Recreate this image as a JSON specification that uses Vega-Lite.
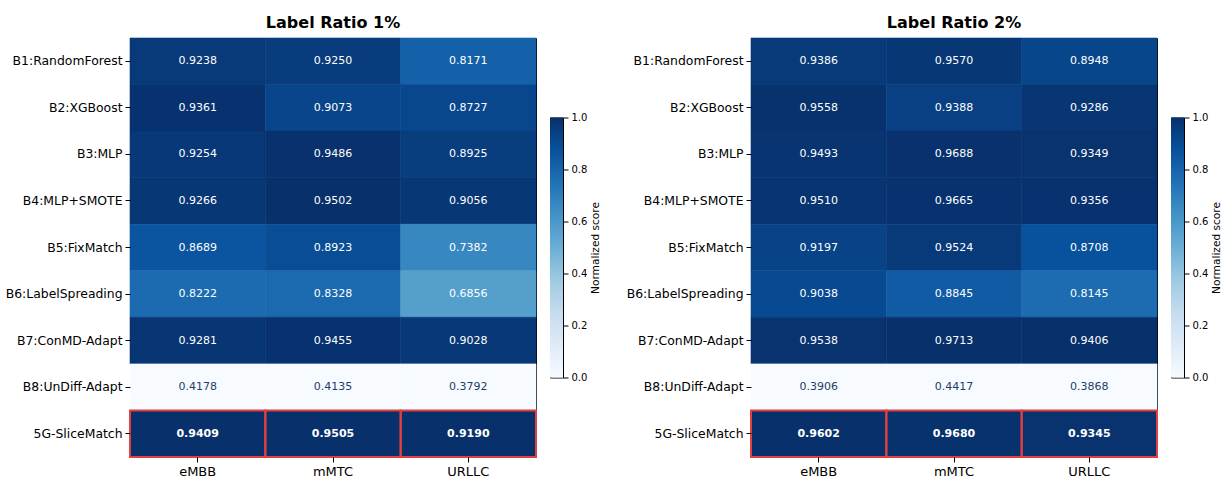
{
  "$schema": "https://vega.github.io/schema/vega-lite/v6.json",
  "padding": {"left": 4, "top": 14, "right": 0, "bottom": 0},
  "background": "white",
  "config": {
    "font": "DejaVu Sans",
    "view": {"stroke": "#000000", "strokeWidth": 1},
    "axis": {"labelColor": "#000000", "tickColor": "#000000", "domain": false, "grid": false, "labelFont": "DejaVu Sans", "titleFont": "DejaVu Sans", "titleColor": "#000000", "titleFontWeight": "normal", "tickSize": 5, "labelPadding": 3},
    "title": {"font": "DejaVu Sans", "fontSize": 16, "fontWeight": "bold", "color": "#000000", "offset": 7, "anchor": "middle"}
  },
  "datasets": {
    "r1": [
      {"model": "B1:RandomForest", "slice": "eMBB", "value": 0.9238, "norm": 0.967},
      {"model": "B1:RandomForest", "slice": "mMTC", "value": 0.9250, "norm": 0.953},
      {"model": "B1:RandomForest", "slice": "URLLC", "value": 0.8171, "norm": 0.811},
      {"model": "B2:XGBoost", "slice": "eMBB", "value": 0.9361, "norm": 0.991},
      {"model": "B2:XGBoost", "slice": "mMTC", "value": 0.9073, "norm": 0.920},
      {"model": "B2:XGBoost", "slice": "URLLC", "value": 0.8727, "norm": 0.914},
      {"model": "B3:MLP", "slice": "eMBB", "value": 0.9254, "norm": 0.970},
      {"model": "B3:MLP", "slice": "mMTC", "value": 0.9486, "norm": 0.996},
      {"model": "B3:MLP", "slice": "URLLC", "value": 0.8925, "norm": 0.951},
      {"model": "B4:MLP+SMOTE", "slice": "eMBB", "value": 0.9266, "norm": 0.973},
      {"model": "B4:MLP+SMOTE", "slice": "mMTC", "value": 0.9502, "norm": 0.999},
      {"model": "B4:MLP+SMOTE", "slice": "URLLC", "value": 0.9056, "norm": 0.975},
      {"model": "B5:FixMatch", "slice": "eMBB", "value": 0.8689, "norm": 0.862},
      {"model": "B5:FixMatch", "slice": "mMTC", "value": 0.8923, "norm": 0.892},
      {"model": "B5:FixMatch", "slice": "URLLC", "value": 0.7382, "norm": 0.665},
      {"model": "B6:LabelSpreading", "slice": "eMBB", "value": 0.8222, "norm": 0.773},
      {"model": "B6:LabelSpreading", "slice": "mMTC", "value": 0.8328, "norm": 0.781},
      {"model": "B6:LabelSpreading", "slice": "URLLC", "value": 0.6856, "norm": 0.568},
      {"model": "B7:ConMD-Adapt", "slice": "eMBB", "value": 0.9281, "norm": 0.976},
      {"model": "B7:ConMD-Adapt", "slice": "mMTC", "value": 0.9455, "norm": 0.991},
      {"model": "B7:ConMD-Adapt", "slice": "URLLC", "value": 0.9028, "norm": 0.970},
      {"model": "B8:UnDiff-Adapt", "slice": "eMBB", "value": 0.4178, "norm": 0.0},
      {"model": "B8:UnDiff-Adapt", "slice": "mMTC", "value": 0.4135, "norm": 0.0},
      {"model": "B8:UnDiff-Adapt", "slice": "URLLC", "value": 0.3792, "norm": 0.0},
      {"model": "5G-SliceMatch", "slice": "eMBB", "value": 0.9409, "norm": 1.0},
      {"model": "5G-SliceMatch", "slice": "mMTC", "value": 0.9505, "norm": 1.0},
      {"model": "5G-SliceMatch", "slice": "URLLC", "value": 0.9190, "norm": 1.0}
    ],
    "r2": [
      {"model": "B1:RandomForest", "slice": "eMBB", "value": 0.9386, "norm": 0.962},
      {"model": "B1:RandomForest", "slice": "mMTC", "value": 0.9570, "norm": 0.973},
      {"model": "B1:RandomForest", "slice": "URLLC", "value": 0.8948, "norm": 0.917},
      {"model": "B2:XGBoost", "slice": "eMBB", "value": 0.9558, "norm": 0.992},
      {"model": "B2:XGBoost", "slice": "mMTC", "value": 0.9388, "norm": 0.939},
      {"model": "B2:XGBoost", "slice": "URLLC", "value": 0.9286, "norm": 0.978},
      {"model": "B3:MLP", "slice": "eMBB", "value": 0.9493, "norm": 0.981},
      {"model": "B3:MLP", "slice": "mMTC", "value": 0.9688, "norm": 0.995},
      {"model": "B3:MLP", "slice": "URLLC", "value": 0.9349, "norm": 0.990},
      {"model": "B4:MLP+SMOTE", "slice": "eMBB", "value": 0.9510, "norm": 0.984},
      {"model": "B4:MLP+SMOTE", "slice": "mMTC", "value": 0.9665, "norm": 0.991},
      {"model": "B4:MLP+SMOTE", "slice": "URLLC", "value": 0.9356, "norm": 0.991},
      {"model": "B5:FixMatch", "slice": "eMBB", "value": 0.9197, "norm": 0.929},
      {"model": "B5:FixMatch", "slice": "mMTC", "value": 0.9524, "norm": 0.964},
      {"model": "B5:FixMatch", "slice": "URLLC", "value": 0.8708, "norm": 0.874},
      {"model": "B6:LabelSpreading", "slice": "eMBB", "value": 0.9038, "norm": 0.901},
      {"model": "B6:LabelSpreading", "slice": "mMTC", "value": 0.8845, "norm": 0.836},
      {"model": "B6:LabelSpreading", "slice": "URLLC", "value": 0.8145, "norm": 0.772},
      {"model": "B7:ConMD-Adapt", "slice": "eMBB", "value": 0.9538, "norm": 0.989},
      {"model": "B7:ConMD-Adapt", "slice": "mMTC", "value": 0.9713, "norm": 1.0},
      {"model": "B7:ConMD-Adapt", "slice": "URLLC", "value": 0.9406, "norm": 1.0},
      {"model": "B8:UnDiff-Adapt", "slice": "eMBB", "value": 0.3906, "norm": 0.0},
      {"model": "B8:UnDiff-Adapt", "slice": "mMTC", "value": 0.4417, "norm": 0.0},
      {"model": "B8:UnDiff-Adapt", "slice": "URLLC", "value": 0.3868, "norm": 0.0},
      {"model": "5G-SliceMatch", "slice": "eMBB", "value": 0.9602, "norm": 1.0},
      {"model": "5G-SliceMatch", "slice": "mMTC", "value": 0.9680, "norm": 0.994},
      {"model": "5G-SliceMatch", "slice": "URLLC", "value": 0.9345, "norm": 0.989}
    ],
    "cbar": [{"lo": 0, "hi": 1}]
  },
  "spacing": 22,
  "hconcat": [
    {
      "spacing": 14,
      "center": true,
      "bounds": "flush",
      "hconcat": [
        {
          "width": 406, "height": 419,
          "title": {"text": "Label Ratio 1%"},
          "data": {"name": "r1"},
          "encoding": {
            "x": {"field": "slice", "type": "nominal", "sort": ["eMBB", "mMTC", "URLLC"], "scale": {"paddingInner": 0, "paddingOuter": 0}, "axis": {"title": null, "labelAngle": 0, "labelFontSize": 13}},
            "y": {"field": "model", "type": "nominal", "sort": ["B1:RandomForest", "B2:XGBoost", "B3:MLP", "B4:MLP+SMOTE", "B5:FixMatch", "B6:LabelSpreading", "B7:ConMD-Adapt", "B8:UnDiff-Adapt", "5G-SliceMatch"], "scale": {"paddingInner": 0, "paddingOuter": 0}, "axis": {"title": null, "labelFontSize": 12.4}}
          },
          "layer": [
            {"mark": {"type": "rect", "strokeWidth": 0.6}, "encoding": {
              "color": {"field": "norm", "type": "quantitative", "scale": {"domain": [0, 0.125, 0.25, 0.375, 0.5, 0.625, 0.75, 0.875, 1], "range": ["#f7fbff", "#deebf7", "#c6dbef", "#9ecae1", "#6baed6", "#4292c6", "#2171b5", "#08519c", "#08306b"], "interpolate": "rgb"}, "legend": null},
              "stroke": {"field": "norm", "type": "quantitative", "scale": {"domain": [0, 0.125, 0.25, 0.375, 0.5, 0.625, 0.75, 0.875, 1], "range": ["#f7fbff", "#deebf7", "#c6dbef", "#9ecae1", "#6baed6", "#4292c6", "#2171b5", "#08519c", "#08306b"], "interpolate": "rgb"}, "legend": null}}},
            {"transform": [{"filter": "datum.model !== '5G-SliceMatch'"}], "mark": {"type": "text", "fontSize": 11}, "encoding": {"text": {"field": "value", "type": "quantitative", "format": ".4f"}, "color": {"condition": {"test": "datum.norm > 0.5", "value": "#ffffff"}, "value": "#1f3d66"}}},
            {"transform": [{"filter": "datum.model === '5G-SliceMatch'"}], "mark": {"type": "text", "fontSize": 11, "fontWeight": "bold", "color": "#ffffff"}, "encoding": {"text": {"field": "value", "type": "quantitative", "format": ".4f"}}},
            {"transform": [{"filter": "datum.model === '5G-SliceMatch'"}], "mark": {"type": "rect", "fill": "transparent", "stroke": "#e0413f", "strokeWidth": 2}, "encoding": {}}
          ]
        },
        {
          "width": 13, "height": 260,
          "data": {"name": "cbar"},
          "mark": {"type": "rect", "fill": {"gradient": "linear", "x1": 0, "y1": 1, "x2": 0, "y2": 0, "stops": [{"offset": 0, "color": "#f7fbff"}, {"offset": 0.125, "color": "#deebf7"}, {"offset": 0.25, "color": "#c6dbef"}, {"offset": 0.375, "color": "#9ecae1"}, {"offset": 0.5, "color": "#6baed6"}, {"offset": 0.625, "color": "#4292c6"}, {"offset": 0.75, "color": "#2171b5"}, {"offset": 0.875, "color": "#08519c"}, {"offset": 1, "color": "#08306b"}]}},
          "encoding": {
            "y": {"field": "lo", "type": "quantitative", "scale": {"domain": [0, 1], "nice": false, "zero": false}, "axis": {"orient": "right", "values": [0, 0.2, 0.4, 0.6, 0.8, 1], "format": ".1f", "title": "Normalized score", "titleAngle": 270, "titleBaseline": "top", "titleFontSize": 10.6, "labelFontSize": 10, "tickSize": 5, "labelPadding": 3, "titlePadding": 4}},
            "y2": {"field": "hi"}
          }
        }
      ]
    },
    {
      "spacing": 14,
      "center": true,
      "bounds": "flush",
      "hconcat": [
        {
          "width": 406, "height": 419,
          "title": {"text": "Label Ratio 2%"},
          "data": {"name": "r2"},
          "encoding": {
            "x": {"field": "slice", "type": "nominal", "sort": ["eMBB", "mMTC", "URLLC"], "scale": {"paddingInner": 0, "paddingOuter": 0}, "axis": {"title": null, "labelAngle": 0, "labelFontSize": 13}},
            "y": {"field": "model", "type": "nominal", "sort": ["B1:RandomForest", "B2:XGBoost", "B3:MLP", "B4:MLP+SMOTE", "B5:FixMatch", "B6:LabelSpreading", "B7:ConMD-Adapt", "B8:UnDiff-Adapt", "5G-SliceMatch"], "scale": {"paddingInner": 0, "paddingOuter": 0}, "axis": {"title": null, "labelFontSize": 12.4}}
          },
          "layer": [
            {"mark": {"type": "rect", "strokeWidth": 0.6}, "encoding": {
              "color": {"field": "norm", "type": "quantitative", "scale": {"domain": [0, 0.125, 0.25, 0.375, 0.5, 0.625, 0.75, 0.875, 1], "range": ["#f7fbff", "#deebf7", "#c6dbef", "#9ecae1", "#6baed6", "#4292c6", "#2171b5", "#08519c", "#08306b"], "interpolate": "rgb"}, "legend": null},
              "stroke": {"field": "norm", "type": "quantitative", "scale": {"domain": [0, 0.125, 0.25, 0.375, 0.5, 0.625, 0.75, 0.875, 1], "range": ["#f7fbff", "#deebf7", "#c6dbef", "#9ecae1", "#6baed6", "#4292c6", "#2171b5", "#08519c", "#08306b"], "interpolate": "rgb"}, "legend": null}}},
            {"transform": [{"filter": "datum.model !== '5G-SliceMatch'"}], "mark": {"type": "text", "fontSize": 11}, "encoding": {"text": {"field": "value", "type": "quantitative", "format": ".4f"}, "color": {"condition": {"test": "datum.norm > 0.5", "value": "#ffffff"}, "value": "#1f3d66"}}},
            {"transform": [{"filter": "datum.model === '5G-SliceMatch'"}], "mark": {"type": "text", "fontSize": 11, "fontWeight": "bold", "color": "#ffffff"}, "encoding": {"text": {"field": "value", "type": "quantitative", "format": ".4f"}}},
            {"transform": [{"filter": "datum.model === '5G-SliceMatch'"}], "mark": {"type": "rect", "fill": "transparent", "stroke": "#e0413f", "strokeWidth": 2}, "encoding": {}}
          ]
        },
        {
          "width": 13, "height": 260,
          "data": {"name": "cbar"},
          "mark": {"type": "rect", "fill": {"gradient": "linear", "x1": 0, "y1": 1, "x2": 0, "y2": 0, "stops": [{"offset": 0, "color": "#f7fbff"}, {"offset": 0.125, "color": "#deebf7"}, {"offset": 0.25, "color": "#c6dbef"}, {"offset": 0.375, "color": "#9ecae1"}, {"offset": 0.5, "color": "#6baed6"}, {"offset": 0.625, "color": "#4292c6"}, {"offset": 0.75, "color": "#2171b5"}, {"offset": 0.875, "color": "#08519c"}, {"offset": 1, "color": "#08306b"}]}},
          "encoding": {
            "y": {"field": "lo", "type": "quantitative", "scale": {"domain": [0, 1], "nice": false, "zero": false}, "axis": {"orient": "right", "values": [0, 0.2, 0.4, 0.6, 0.8, 1], "format": ".1f", "title": "Normalized score", "titleAngle": 270, "titleBaseline": "top", "titleFontSize": 10.6, "labelFontSize": 10, "tickSize": 5, "labelPadding": 3, "titlePadding": 4}},
            "y2": {"field": "hi"}
          }
        }
      ]
    }
  ]
}
